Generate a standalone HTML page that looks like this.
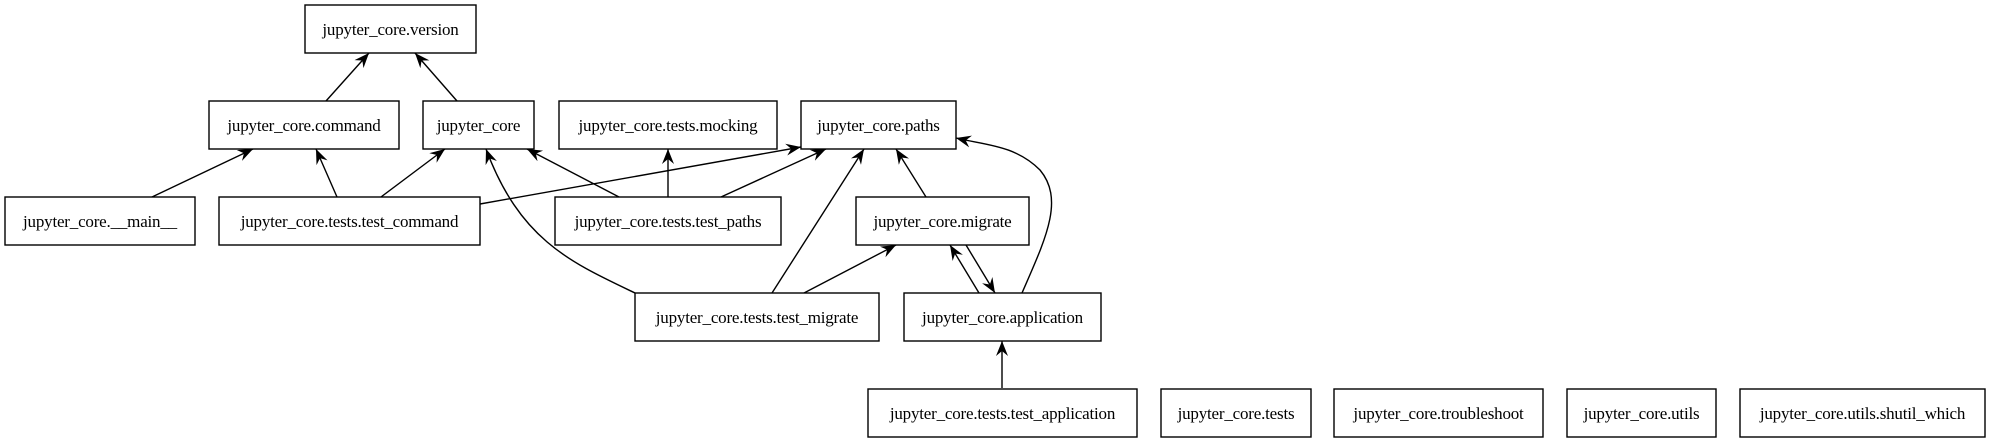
<!DOCTYPE html>
<html><head><meta charset="utf-8"><style>
html,body{margin:0;padding:0;background:#fff;}
svg{display:block}
text{font-family:"Liberation Serif",serif;font-size:17px;letter-spacing:-0.2px;fill:#000;}
</style></head><body>
<svg width="1991" height="443" viewBox="0 0 1991 443" xmlns="http://www.w3.org/2000/svg">
<defs>
<marker id="a" markerWidth="16" markerHeight="14" refX="15" refY="6" orient="auto" markerUnits="userSpaceOnUse">
<path d="M0,0 L15,6 L0,12 L5,6 z" fill="#000"/>
</marker>
</defs>
<g fill="none" stroke="#000" stroke-width="1.4" marker-end="url(#a)">
<line x1="326" y1="101" x2="369" y2="53"/>
<line x1="457" y1="101" x2="415" y2="53"/>
<line x1="152" y1="197" x2="253" y2="149"/>
<line x1="337" y1="197" x2="316" y2="149"/>
<line x1="381" y1="197" x2="445" y2="149"/>
<line x1="480" y1="204" x2="801" y2="147"/>
<line x1="619" y1="197" x2="527" y2="149"/>
<line x1="668" y1="197" x2="668" y2="149"/>
<line x1="721" y1="197" x2="826" y2="149"/>
<path d="M635,293 C570,262 520,240 486,149"/>
<line x1="772" y1="293" x2="864" y2="149"/>
<line x1="804" y1="293" x2="896" y2="245"/>
<line x1="926" y1="197" x2="896" y2="149"/>
<line x1="979" y1="293" x2="950" y2="245"/>
<line x1="966" y1="245" x2="995" y2="293"/>
<path d="M1022,293 C1045,240 1065,200 1040,170 C1015,145 985,145 956,138"/>
<line x1="1002" y1="388" x2="1002" y2="341"/>
</g>
<g fill="#fff" stroke="#000" stroke-width="1.4">
<rect x="305" y="5" width="171" height="48"/>
<rect x="209" y="101" width="190" height="48"/>
<rect x="423" y="101" width="111" height="48"/>
<rect x="559" y="101" width="218" height="48"/>
<rect x="801" y="101" width="155" height="48"/>
<rect x="5" y="197" width="190" height="48"/>
<rect x="219" y="197" width="261" height="48"/>
<rect x="555" y="197" width="226" height="48"/>
<rect x="856" y="197" width="173" height="48"/>
<rect x="635" y="293" width="244" height="48"/>
<rect x="904" y="293" width="197" height="48"/>
<rect x="868" y="389" width="269" height="48"/>
<rect x="1161" y="389" width="150" height="48"/>
<rect x="1334" y="389" width="209" height="48"/>
<rect x="1567" y="389" width="149" height="48"/>
<rect x="1740" y="389" width="245" height="48"/>
</g>
<g text-anchor="middle">
<text x="390.5" y="35">jupyter_core.version</text>
<text x="304" y="131">jupyter_core.command</text>
<text x="478.5" y="131">jupyter_core</text>
<text x="668" y="131">jupyter_core.tests.mocking</text>
<text x="878.5" y="131">jupyter_core.paths</text>
<text x="100" y="227">jupyter_core.__main__</text>
<text x="349.5" y="227">jupyter_core.tests.test_command</text>
<text x="668" y="227">jupyter_core.tests.test_paths</text>
<text x="942.5" y="227">jupyter_core.migrate</text>
<text x="757" y="323">jupyter_core.tests.test_migrate</text>
<text x="1002.5" y="323">jupyter_core.application</text>
<text x="1002.5" y="419">jupyter_core.tests.test_application</text>
<text x="1236" y="419">jupyter_core.tests</text>
<text x="1438.5" y="419">jupyter_core.troubleshoot</text>
<text x="1641.5" y="419">jupyter_core.utils</text>
<text x="1862.5" y="419">jupyter_core.utils.shutil_which</text>
</g>
</svg>
</body></html>
